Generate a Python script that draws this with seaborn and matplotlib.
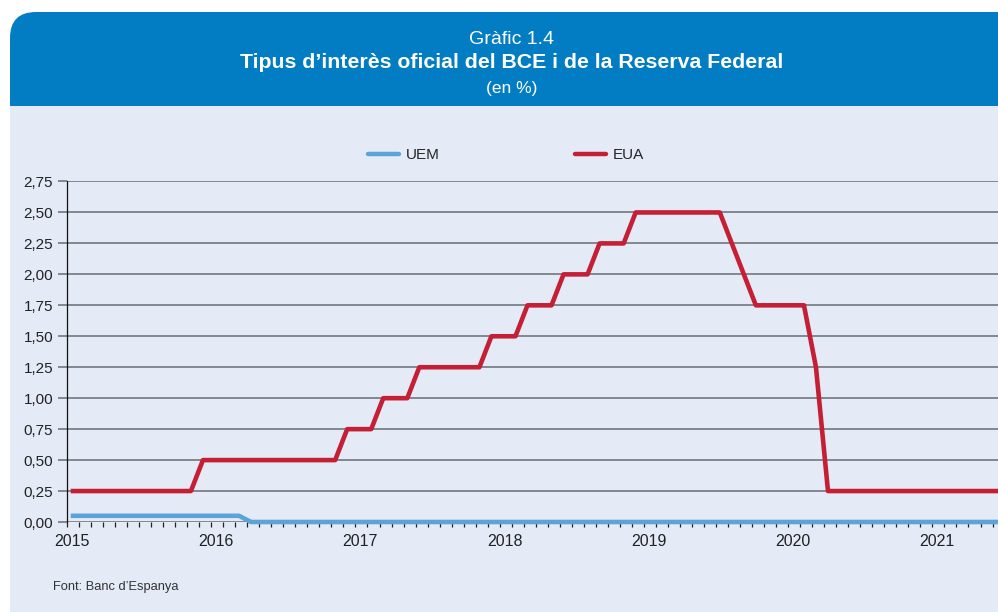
import matplotlib
matplotlib.use("Agg")
import matplotlib.pyplot as plt
from matplotlib.patches import FancyBboxPatch, Rectangle
from matplotlib.transforms import IdentityTransform
from matplotlib.lines import Line2D
from matplotlib.ticker import FuncFormatter, FixedLocator, MultipleLocator
import seaborn as sns
import pandas as pd

# ---------------- data ----------------
years = ["2015", "2016", "2017", "2018", "2019", "2020", "2021"]
yticks = [0.0, 0.25, 0.5, 0.75, 1.0, 1.25, 1.5, 1.75, 2.0, 2.25, 2.5, 2.75]
series_names = ["UEM", "EUA"]

# monthly values, Jan 2015 .. Jul 2021 (79 months)
uem = [0.05, 0.05, 0.05, 0.05, 0.05, 0.05, 0.05, 0.05, 0.05, 0.05, 0.05, 0.05,   # 2015
       0.05, 0.05, 0.05, 0.0, 0.0, 0.0, 0.0, 0.0, 0.0, 0.0, 0.0, 0.0,            # 2016
       0.0, 0.0, 0.0, 0.0, 0.0, 0.0, 0.0, 0.0, 0.0, 0.0, 0.0, 0.0,               # 2017
       0.0, 0.0, 0.0, 0.0, 0.0, 0.0, 0.0, 0.0, 0.0, 0.0, 0.0, 0.0,               # 2018
       0.0, 0.0, 0.0, 0.0, 0.0, 0.0, 0.0, 0.0, 0.0, 0.0, 0.0, 0.0,               # 2019
       0.0, 0.0, 0.0, 0.0, 0.0, 0.0, 0.0, 0.0, 0.0, 0.0, 0.0, 0.0,               # 2020
       0.0, 0.0, 0.0, 0.0, 0.0, 0.0, 0.0]                                        # 2021
eua = [0.25, 0.25, 0.25, 0.25, 0.25, 0.25, 0.25, 0.25, 0.25, 0.25, 0.25, 0.5,   # 2015
       0.5, 0.5, 0.5, 0.5, 0.5, 0.5, 0.5, 0.5, 0.5, 0.5, 0.5, 0.75,             # 2016
       0.75, 0.75, 1.0, 1.0, 1.0, 1.25, 1.25, 1.25, 1.25, 1.25, 1.25, 1.5,      # 2017
       1.5, 1.5, 1.75, 1.75, 1.75, 2.0, 2.0, 2.0, 2.25, 2.25, 2.25, 2.5,        # 2018
       2.5, 2.5, 2.5, 2.5, 2.5, 2.5, 2.5, 2.25, 2.0, 1.75, 1.75, 1.75,          # 2019
       1.75, 1.75, 1.25, 0.25, 0.25, 0.25, 0.25, 0.25, 0.25, 0.25, 0.25, 0.25,  # 2020
       0.25, 0.25, 0.25, 0.25, 0.25, 0.25, 0.25]                                # 2021

# ---------------- style ----------------
BG = "#e4eaf6"
HEADER = "#027dc3"
RED = "#c41f35"
BLUE = "#5ba4d8"
GRID = "#696c73"
FONT = ["Liberation Sans", "DejaVu Sans"]

sns.set_theme(style="white")
plt.rcParams["font.family"] = FONT

W, H = 998, 612
fig = plt.figure(figsize=(W / 100, H / 100), dpi=100, facecolor="white")

# header band with rounded top-left corner (pixel coordinates)
hdr = FancyBboxPatch((10, 612 - 106 - 40), 1100, 94 + 40,
                     boxstyle="round,pad=0,rounding_size=26",
                     transform=IdentityTransform(), facecolor=HEADER,
                     edgecolor="none", zorder=0)
fig.add_artist(hdr)
body = Rectangle((10, 0), 1000, 612 - 106, transform=IdentityTransform(),
                 facecolor=BG, edgecolor="none", zorder=0.5)
fig.add_artist(body)

cx = 512 / W
fig.text(cx, 1 - 40 / H, "Gràfic 1.4", ha="center", va="center",
         color="white", fontsize=14, fontweight="light")
fig.text(cx, 1 - 63 / H, "Tipus d’interès oficial del BCE i de la Reserva Federal",
         ha="center", va="center", color="white", fontsize=15.3, fontweight="bold")
fig.text(cx, 1 - 88 / H, "(en %)", ha="center", va="center",
         color="white", fontsize=12.5)
fig.text(53 / W, 1 - 587 / H, "Font: Banc d’Espanya", ha="left", va="center",
         color="#333333", fontsize=9.3)

# ---------------- axes ----------------
ax_left = 67 / W
ax_bottom = (H - 522) / H
ax_top = (H - 181.5) / H
ax = fig.add_axes([ax_left, ax_bottom, 1 - ax_left, ax_top - ax_bottom])
ax.set_facecolor("none")
ax.set_zorder(2)

n = len(eua)
month_offset = 0.31
xpos = [i + month_offset for i in range(n)]
df = pd.DataFrame({
    "x": xpos * 2,
    "valor": uem + eua,
    "serie": [series_names[0]] * n + [series_names[1]] * n,
})

sns.lineplot(data=df, x="x", y="valor", hue="serie",
             palette={"UEM": BLUE, "EUA": RED}, linewidth=3.3,
             legend=False, ax=ax, zorder=3, solid_capstyle="butt")

ax.set_xlim(0, (W - 67) / 12.02)
ax.set_ylim(0, 2.75)
ax.set_xlabel("")
ax.set_ylabel("")

# let the lines draw over the bottom edge (blue line sits on 0), clip only horizontally
from matplotlib.transforms import Bbox, TransformedBbox
clip_box = TransformedBbox(Bbox([[0, -0.1], [1, 1.1]]), ax.transAxes)
for line in ax.lines:
    line.set_clip_box(clip_box)

ax.set_yticks(yticks)
ax.yaxis.set_major_formatter(FuncFormatter(lambda v, p: f"{v:.2f}".replace(".", ",")))
ax.yaxis.grid(True, color=GRID, linewidth=1.1)
ax.xaxis.grid(False)
ax.tick_params(axis="y", length=6.5, width=1.1, color=GRID, pad=3.5,
               labelsize=11, labelcolor="#222222", left=True)

ax.xaxis.set_major_locator(FixedLocator([12 * k + 0.4 for k in range(len(years))]))
ax.set_xticklabels(years)
ax.xaxis.set_minor_locator(MultipleLocator(1))
ax.tick_params(axis="x", which="major", length=0, pad=9, labelsize=11.5,
               labelcolor="#222222")
ax.tick_params(axis="x", which="minor", length=3.6, width=0.9, color="#222222",
               bottom=True)

for s in ["top", "right", "bottom"]:
    ax.spines[s].set_visible(False)
ax.spines["left"].set_color("#111111")
ax.spines["left"].set_linewidth(0.9)

# legend
handles = [Line2D([], [], color=BLUE, lw=3.2, solid_capstyle="round"),
           Line2D([], [], color=RED, lw=3.2, solid_capstyle="round")]
fig.legend(handles, series_names, loc="center", bbox_to_anchor=(506 / W, 1 - 155 / H),
           ncol=2, frameon=False, fontsize=11, handlelength=2.0,
           handletextpad=0.45, columnspacing=8.9)

fig.savefig("out.png", dpi=100, facecolor="white")
